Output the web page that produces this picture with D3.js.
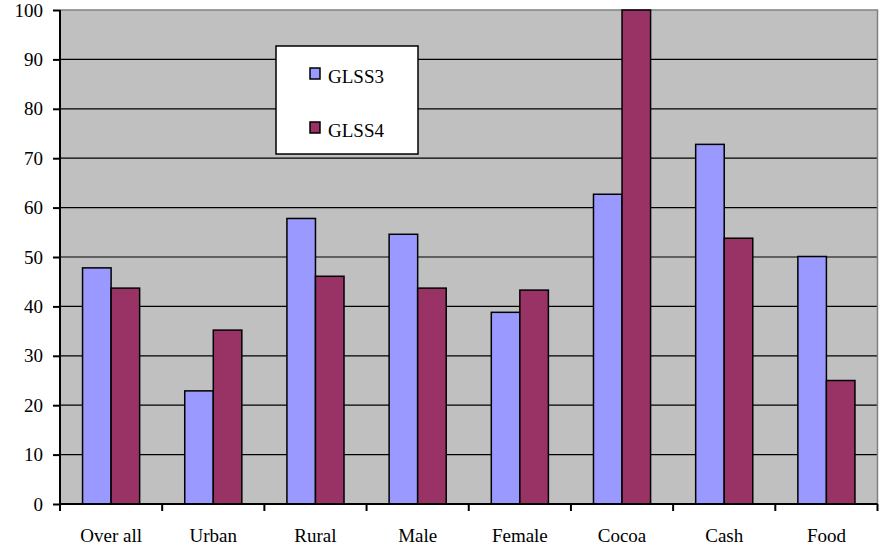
<!DOCTYPE html>
<html><head><meta charset="utf-8">
<script src="https://cdn.jsdelivr.net/npm/d3@7"></script>
<style>body{margin:0;background:#fff}svg{display:block}svg text{font-family:"Liberation Serif","Times New Roman",serif !important}</style>
</head><body>
<svg id="c" width="882" height="550"></svg>
<script>
const categories = ["Over all","Urban","Rural","Male","Female","Cocoa","Cash","Food"];
const seriesNames = ["GLSS3","GLSS4"];
const glss3 = [47.8, 22.9, 57.8, 54.6, 38.8, 62.7, 72.8, 50.1];
const glss4 = [43.7, 35.2, 46.1, 43.7, 43.3, 100, 53.8, 25.0];
const yTicks = [0,10,20,30,40,50,60,70,80,90,100];
const colors = ["#9999FF","#993366"];

const svg = d3.select("#c");
const L = 60, R = 877.5, T = 10, B = 504;
const x = d3.scaleBand().domain(categories).range([L, R]).paddingInner(0).paddingOuter(0);
const x1 = d3.scaleBand().domain(seriesNames).range([0, x.bandwidth()]).paddingInner(0).paddingOuter(0.79);
const y = d3.scaleLinear().domain([0,100]).range([B, T]);

svg.append("rect").attr("x",L).attr("y",T).attr("width",R-L).attr("height",B-T).attr("fill","#C0C0C0");
// grid
svg.append("g").selectAll("line").data(yTicks.filter(d=>d>0 && d<100)).join("line")
  .attr("x1",L).attr("x2",R).attr("y1",d=>y(d)).attr("y2",d=>y(d))
  .attr("stroke","#000").attr("stroke-width",1.2);
// border top/right
svg.append("path").attr("d",`M${L},${T}H${R}V${B}`).attr("fill","none").attr("stroke","#808080").attr("stroke-width",1.5);

const data = categories.map((c,i)=>({c, vals:[glss3[i],glss4[i]]}));
const g = svg.append("g");
data.forEach(d=>{
  d.vals.forEach((v,j)=>{
    g.append("rect")
      .attr("x", x(d.c)+x1(seriesNames[j]))
      .attr("y", y(v))
      .attr("width", x1.bandwidth())
      .attr("height", B - y(v))
      .attr("fill", colors[j]).attr("stroke","#000").attr("stroke-width",1.5);
  });
});

// y axis
const ya = svg.append("g").attr("transform",`translate(${L},0)`)
  .call(d3.axisLeft(y).tickValues(yTicks).tickSize(7).tickPadding(10));
ya.attr("font-family", null);
ya.select(".domain").attr("stroke","#000").attr("stroke-width",2).attr("d",`M0,${T}V${B}`);
ya.selectAll(".tick line").attr("stroke","#000").attr("stroke-width",2);
ya.selectAll("text").attr("font-size",19).attr("fill","#000");

// x axis
const xa = svg.append("g").attr("transform",`translate(0,${B})`)
  .call(d3.axisBottom(x).tickSize(0).tickPadding(25));
xa.attr("font-family", null);
xa.select(".domain").attr("stroke","#000").attr("stroke-width",2).attr("d",`M${L},0H${R}`);
xa.selectAll("text").attr("font-size",19).attr("fill","#000");
const edges = categories.map(c=>x(c)).concat([R]);
xa.selectAll(".edge").data(edges).join("line").attr("class","edge")
  .attr("x1",d=>d).attr("x2",d=>d).attr("y1",0).attr("y2",7).attr("stroke","#000").attr("stroke-width",2);

// legend
const lg = svg.append("g");
lg.append("rect").attr("x",276).attr("y",46).attr("width",142).attr("height",108)
  .attr("fill","#fff").attr("stroke","#000").attr("stroke-width",1.5);
seriesNames.forEach((s,i)=>{
  const yy = 68 + i*54;
  lg.append("rect").attr("x",310).attr("y",yy).attr("width",10).attr("height",11)
    .attr("fill",colors[i]).attr("stroke","#000").attr("stroke-width",1.5);
  lg.append("text").attr("x",328).attr("y",yy+15).attr("font-size",19).attr("fill","#000").text(s);
});
</script>
</body></html>
